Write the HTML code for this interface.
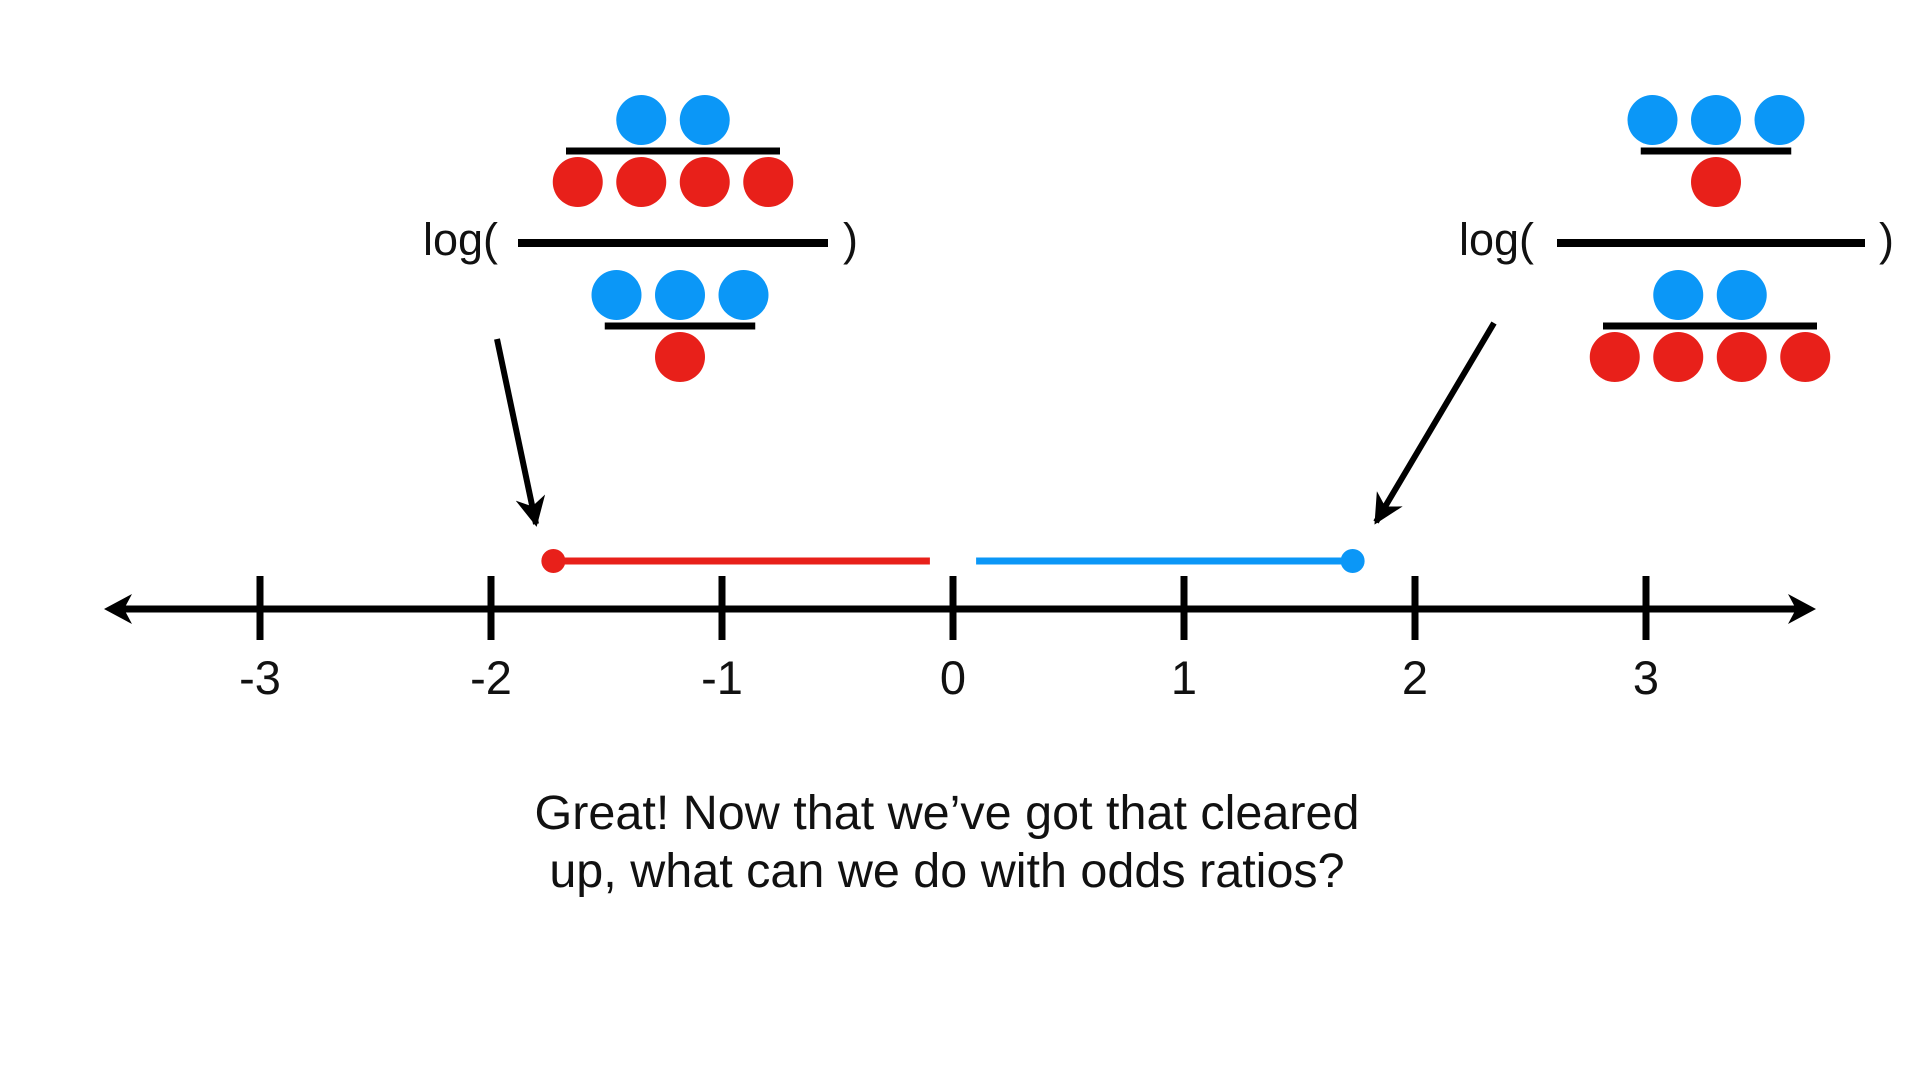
<!DOCTYPE html>
<html><head><meta charset="utf-8"><style>
html,body{margin:0;padding:0;background:#fff;}
svg{display:block;font-family:"Liberation Sans",Arial,sans-serif;}
</style></head><body>
<svg id="chart" width="1920" height="1080" viewBox="0 0 1920 1080" xmlns="http://www.w3.org/2000/svg">
<defs>
<marker id="ah" viewBox="0 0 10 10" refX="9" refY="5" markerWidth="5" markerHeight="5" orient="auto"><path d="M0,0 L10,5 L0,10 L3,5 z" fill="#000"/></marker>
</defs>
<g id="axis"></g>
<g id="segments"></g>
<g id="left-expr">
 <text x="423" y="255" font-size="45" fill="#111">log(</text>
 <text x="843" y="255" font-size="45" fill="#111">)</text>
</g>
<g id="right-expr">
 <text x="1459" y="255" font-size="45" fill="#111">log(</text>
 <text x="1879" y="255" font-size="45" fill="#111">)</text>
</g>
<line x1="497" y1="339" x2="536" y2="524" stroke="#000" stroke-width="6" marker-end="url(#ah)"/>
<line x1="1494" y1="323" x2="1376" y2="522" stroke="#000" stroke-width="6" marker-end="url(#ah)"/>
<text x="947" y="829" font-size="48.5" fill="#111" text-anchor="middle">Great! Now that we’ve got that cleared</text>
<text x="947" y="887" font-size="48.5" fill="#111" text-anchor="middle">up, what can we do with odds ratios?</text>
</svg>
<script>
const tickValues = [-3, -2, -1, 0, 1, 2, 3];
const tickLabels = ["-3", "-2", "-1", "0", "1", "2", "3"];
const redLogOdds = -1.73;
const blueLogOdds = 1.73;
const leftCounts = {numBlue: 2, numRed: 4, denBlue: 3, denRed: 1};
const rightCounts = {numBlue: 3, numRed: 1, denBlue: 2, denRed: 4};

const NS = "http://www.w3.org/2000/svg";
const X0 = 953, UNIT = 231, AXIS_Y = 609;
function xScale(v){ return X0 + v * UNIT; }
function mk(tag, attrs, parent){
  const e = document.createElementNS(NS, tag);
  for (const k in attrs) e.setAttribute(k, attrs[k]);
  parent.appendChild(e); return e;
}
const axis = document.getElementById('axis');
let l = mk('line', {x1:112, y1:AXIS_Y, x2:1808, y2:AXIS_Y, stroke:'#000', 'stroke-width':7}, axis);


let a1 = mk('path', {d:`M104,${AXIS_Y} L132,${AXIS_Y-15} L124,${AXIS_Y} L132,${AXIS_Y+15} Z`, fill:'#000'}, axis);


let a2 = mk('path', {d:`M1816,${AXIS_Y} L1788,${AXIS_Y-15} L1796,${AXIS_Y} L1788,${AXIS_Y+15} Z`, fill:'#000'}, axis);


tickValues.forEach((v, i) => {
  const x = xScale(v);
  const t = mk('line', {x1:x, y1:AXIS_Y-33, x2:x, y2:AXIS_Y+31, stroke:'#000', 'stroke-width':7}, axis);
  
  
  const tx = mk('text', {x:x, y:AXIS_Y+85, 'font-size':47, 'text-anchor':'middle', fill:'#111'}, axis);
  tx.textContent = tickLabels[i];
  
  
});
const seg = document.getElementById('segments');
const RED = '#e8201a', BLUE = '#0b97f7', SY = 561;
let rs = mk('line', {x1:xScale(redLogOdds), y1:SY, x2:xScale(-0.1), y2:SY, stroke:RED, 'stroke-width':7}, seg);


let rd = mk('circle', {cx:xScale(redLogOdds), cy:SY, r:12, fill:RED}, seg);


let bs = mk('line', {x1:xScale(0.1), y1:SY, x2:xScale(blueLogOdds), y2:SY, stroke:BLUE, 'stroke-width':7}, seg);


let bd = mk('circle', {cx:xScale(blueLogOdds), cy:SY, r:12, fill:BLUE}, seg);



const SP = 63.5, R = 25;
function row(g, n, cx, cy, color, name){
  for (let i = 0; i < n; i++){
    const c = mk('circle', {cx: cx + (i - (n-1)/2) * SP, cy: cy, r: R, fill: color}, g);
    
    
  }
}
function bar(g, cx, y, w, th, name){
  const b = mk('line', {x1:cx-w/2, y1:y, x2:cx+w/2, y2:y, stroke:'#000', 'stroke-width':th}, g);
  
  
}
function expr(g, c, cxTop, cxBot, fx1, fx2){
  const topW = Math.max(c.numBlue, c.numRed) * SP - 40;
  const botW = Math.max(c.denBlue, c.denRed) * SP - 40;
  row(g, c.numBlue, cxTop, 120, BLUE, 'numerator-blue-dot');
  bar(g, cxTop, 151, topW, 7, 'numerator-fraction-bar');
  row(g, c.numRed, cxTop, 182, RED, 'numerator-red-dot');
  bar(g, (fx1+fx2)/2, 243, fx2-fx1, 8, 'main-fraction-bar');
  row(g, c.denBlue, cxBot, 295, BLUE, 'denominator-blue-dot');
  bar(g, cxBot, 326, botW, 7, 'denominator-fraction-bar');
  row(g, c.denRed, cxBot, 357, RED, 'denominator-red-dot');
}
expr(document.getElementById('left-expr'), leftCounts, 673, 680, 518, 828);
expr(document.getElementById('right-expr'), rightCounts, 1716, 1710, 1557, 1865);
</script>
</body></html>
